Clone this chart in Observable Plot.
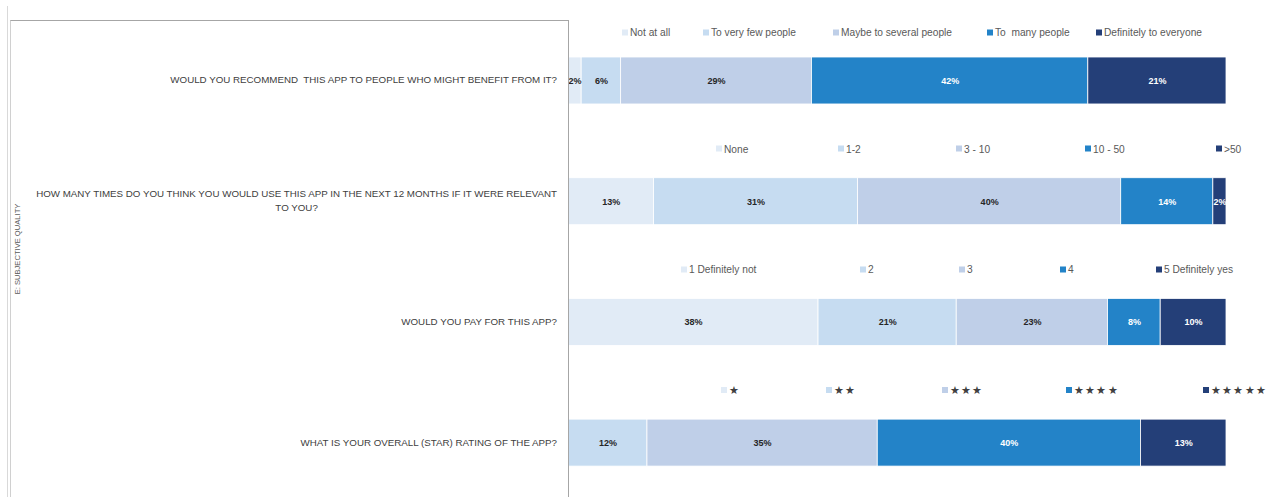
<!DOCTYPE html>
<html>
<head>
<meta charset="utf-8">
<script src="https://cdn.jsdelivr.net/npm/d3@7"></script>
<script src="https://cdn.jsdelivr.net/npm/@observablehq/plot@0.6"></script>
<style>
  body { margin: 0; background: #fff; font-family: "Liberation Sans", Arial, sans-serif; }
  #wrap { position: relative; width: 1267px; height: 497px; overflow: hidden; }
  #wrap svg { position: absolute; left: 0; top: 0; }
  .box { position: absolute; left: 10px; top: 20px; width: 557px; height: 490px;
         border-top: 1px solid #a6a6a6; border-right: 1px solid #a6a6a6; border-left: 1px solid #d0d0d0; }
  .outer { position: absolute; left: 7px; top: 6px; width: 1px; height: 491px; background: #d9d9d9; }
  .side { position: absolute; left: 17px; top: 249px; transform: translate(-50%, -50%) rotate(-90deg);
          font-size: 7.6px; color: #595959; white-space: nowrap; }
  .q { position: absolute; font-size: 9.75px; color: #404040; text-align: center; white-space: pre;
       line-height: 14px; transform: translate(-100%, -50%); }
  .leg { position: absolute; font-size: 10.2px; color: #595959; white-space: pre; transform: translateY(-50%);
         display: flex; align-items: center; }
  .leg i { display: inline-block; width: 6px; height: 6px; margin-right: 2px; }
  .leg.star { color: #404040; font-size: 10.5px; letter-spacing: 1.2px; }
</style>
</head>
<body>
<div id="wrap">
  <div class="outer"></div>
  <div class="box"></div>
  <div class="side">E: SUBJECTIVE QUALITY</div>
</div>
<script>
// ---------- data ----------
const questions = [
  "WOULD YOU RECOMMEND  THIS APP TO PEOPLE WHO MIGHT BENEFIT FROM IT?",
  "HOW MANY TIMES DO YOU THINK YOU WOULD USE THIS APP IN THE NEXT 12 MONTHS IF IT WERE RELEVANT\nTO YOU?",
  "WOULD YOU PAY FOR THIS APP?",
  "WHAT IS YOUR OVERALL (STAR) RATING OF THE APP?"
];
const recommendLabels = ["Not at all", "To very few people", "Maybe to several people", "To  many people", "Definitely to everyone"];
const recommendValues = [2, 6, 29, 42, 21];
const usageLabels = ["None", "1-2", "3 - 10", "10 - 50", ">50"];
const usageValues = [13, 31, 40, 14, 2];
const payLabels = ["1 Definitely not", "2", "3", "4", "5 Definitely yes"];
const payValues = [38, 21, 23, 8, 10];
const starLabels = ["★", "★★", "★★★", "★★★★", "★★★★★"];
const starValues = [0, 12, 35, 40, 13];

const seriesLabels = [recommendLabels, usageLabels, payLabels, starLabels];
const seriesValues = [recommendValues, usageValues, payValues, starValues];

// ---------- styles / layout ----------
const colors = ["#e1ebf6", "#c6dcf1", "#bfcfe8", "#2383c8", "#243f78"];
const legendLeft = [
  [622, 703, 833, 987, 1096],
  [716, 838, 956, 1085, 1216],
  [681, 860, 959, 1060, 1156],
  [721, 826, 942, 1066, 1203]
];
const legendOffset = [25, 29, 29, 29];

const rows = [];
seriesValues.forEach((vals, qi) => vals.forEach((v, k) => rows.push({q: questions[qi], k, value: v})));

const plot = Plot.plot({
  width: 1267,
  height: 497,
  marginLeft: 568,
  marginRight: 41,
  marginTop: 0,
  marginBottom: 0,
  style: {fontFamily: "'Liberation Sans', Arial, sans-serif", background: "transparent"},
  x: {domain: [0, 100], axis: null},
  y: {domain: questions, range: [20.8, 502.3], paddingInner: 0.611, paddingOuter: 0.3, align: 0.5, round: false, axis: null},
  color: {type: "ordinal", domain: [0, 1, 2, 3, 4], range: colors},
  marks: [
    Plot.barX(rows, {x: "value", y: "q", fill: "k", stroke: "white", strokeWidth: 0.8, order: null}),
    Plot.text(rows, Plot.stackX({
      x: "value", y: "q", order: null,
      filter: d => d.value > 0,
      text: d => d.value + "%",
      fill: d => d.k >= 3 ? "white" : "#262626",
      fontWeight: "bold",
      fontSize: 9
    }))
  ]
});

const wrap = document.getElementById("wrap");
wrap.insertBefore(plot, wrap.firstChild);

const y = plot.scale("y");
const x = plot.scale("x");
const bw = y.bandwidth;

questions.forEach((q, qi) => {
  const top = y.apply(q);
  // question label
  const lab = document.createElement("div");
  lab.className = "q";
  lab.style.left = (x.apply(0) - 11) + "px";
  lab.style.top = (top + bw / 2) + "px";
  lab.textContent = q;
  wrap.appendChild(lab);
  // legend
  seriesLabels[qi].forEach((name, k) => {
    const it = document.createElement("div");
    it.className = "leg" + (qi === 3 ? " star" : "");
    it.style.left = legendLeft[qi][k] + "px";
    it.style.top = (top - legendOffset[qi]) + "px";
    const sw = document.createElement("i");
    sw.style.background = colors[k];
    it.appendChild(sw);
    it.appendChild(document.createTextNode(name));
    wrap.appendChild(it);
  });
});
</script>
</body>
</html>
